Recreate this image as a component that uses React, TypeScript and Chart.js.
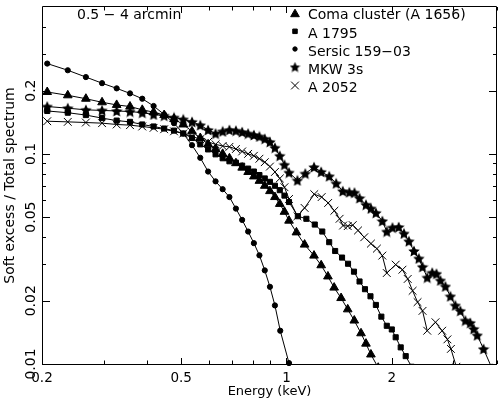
import React, { useEffect, useRef } from 'react';
import { Chart, registerables } from 'chart.js';

Chart.register(...registerables);

// ---- data (energy in keV, ratio soft excess / total spectrum) ----
const lowEnergy = [0.207, 0.237, 0.267, 0.297, 0.327, 0.357, 0.387, 0.417, 0.447, 0.477, 0.507, 0.537, 0.567, 0.597, 0.627, 0.657, 0.687, 0.717, 0.747, 0.777, 0.807, 0.837, 0.867, 0.897, 0.927, 0.957, 0.987, 1.017];

const comaEnergy = [...lowEnergy, 1.068, 1.127, 1.199, 1.257, 1.314, 1.369, 1.433, 1.497, 1.563, 1.634, 1.688, 1.744, 1.83];
const comaRatio = [0.197, 0.190, 0.183, 0.176, 0.171, 0.168, 0.162, 0.158, 0.153, 0.1465, 0.138, 0.128, 0.119, 0.111, 0.1055, 0.100, 0.0953, 0.0903, 0.0860, 0.0820, 0.0781, 0.0744, 0.0705, 0.0665, 0.0623, 0.0578, 0.0530, 0.0481, 0.0423, 0.0370, 0.0328, 0.0295, 0.0261, 0.0231, 0.0206, 0.0182, 0.0161, 0.0140, 0.0125, 0.0111, 0.0096];

const a1795Energy = [...lowEnergy, 1.078, 1.140, 1.205, 1.266, 1.325, 1.378, 1.442, 1.500, 1.560, 1.618, 1.677, 1.739, 1.802, 1.868, 1.936, 2.001, 2.053, 2.122, 2.193, 2.280];
const a1795Ratio = [0.160, 0.157, 0.153, 0.148, 0.144, 0.142, 0.138, 0.135, 0.132, 0.129, 0.125, 0.119, 0.111, 0.105, 0.0995, 0.0953, 0.0922, 0.0908, 0.0879, 0.0851, 0.0824, 0.0793, 0.0764, 0.0736, 0.0705, 0.0672, 0.0633, 0.0590, 0.0505, 0.0491, 0.0461, 0.0427, 0.0380, 0.0345, 0.0321, 0.0300, 0.0275, 0.0247, 0.0227, 0.0210, 0.0191, 0.0168, 0.0152, 0.0146, 0.0134, 0.0120, 0.0109, 0.0097];

const sersicEnergy = [0.207, 0.237, 0.267, 0.297, 0.327, 0.357, 0.387, 0.417, 0.447, 0.477, 0.507, 0.537, 0.567, 0.597, 0.627, 0.657, 0.687, 0.717, 0.747, 0.777, 0.807, 0.837, 0.867, 0.897, 0.927, 0.960, 1.017];
const sersicRatio = [0.269, 0.250, 0.232, 0.217, 0.205, 0.194, 0.183, 0.169, 0.154, 0.140, 0.125, 0.110, 0.0958, 0.0824, 0.0740, 0.0679, 0.0623, 0.0549, 0.0485, 0.0427, 0.0376, 0.0329, 0.0279, 0.0233, 0.0190, 0.0144, 0.0101];

const mkw3sEnergy = [...lowEnergy, 1.075, 1.132, 1.199, 1.257, 1.325, 1.387, 1.449, 1.513, 1.565, 1.618, 1.688, 1.744, 1.802, 1.880, 1.936, 2.010, 2.094, 2.168, 2.240, 2.315, 2.391, 2.450, 2.527, 2.611, 2.685, 2.756, 2.848, 2.943, 3.041, 3.142, 3.247, 3.355, 3.432, 3.512, 3.660, 3.874];
const mkw3sRatio = [0.168, 0.165, 0.162, 0.161, 0.160, 0.159, 0.157, 0.154, 0.152, 0.149, 0.146, 0.142, 0.137, 0.130, 0.125, 0.128, 0.130, 0.129, 0.127, 0.125, 0.123, 0.121, 0.118, 0.114, 0.107, 0.0979, 0.0888, 0.0815, 0.0748, 0.0806, 0.0865, 0.0821, 0.0783, 0.0724, 0.0665, 0.0657, 0.0654, 0.0616, 0.0573, 0.0550, 0.0524, 0.0479, 0.0427, 0.0446, 0.0449, 0.0418, 0.0384, 0.0345, 0.0318, 0.0290, 0.0258, 0.0272, 0.0269, 0.0250, 0.0234, 0.0210, 0.0190, 0.0179, 0.0161, 0.0157, 0.0147, 0.0137, 0.0118, 0.0095];

const a2052Energy = [...lowEnergy, 1.075, 1.127, 1.201, 1.261, 1.316, 1.371, 1.419, 1.452, 1.497, 1.547, 1.602, 1.669, 1.744, 1.814, 1.880, 1.936, 2.053, 2.146, 2.222, 2.295, 2.371, 2.450, 2.527, 2.668, 2.788, 2.886, 2.953, 3.061];
const a2052Ratio = [0.143, 0.142, 0.141, 0.140, 0.138, 0.137, 0.135, 0.133, 0.131, 0.128, 0.125, 0.121, 0.1175, 0.114, 0.111, 0.109, 0.108, 0.1055, 0.1027, 0.100, 0.0979, 0.0948, 0.0913, 0.0870, 0.0820, 0.0764, 0.0694, 0.0610, 0.0505, 0.0553, 0.0643, 0.0623, 0.0584, 0.0536, 0.0491, 0.0456, 0.0453, 0.0458, 0.0432, 0.0401, 0.0374, 0.0354, 0.0328, 0.0271, 0.0297, 0.0281, 0.0254, 0.0223, 0.0197, 0.0179, 0.0144, 0.0158, 0.0144, 0.0131, 0.0118, 0.0097];

const seriesNames = ['Coma cluster (A 1656)', 'A 1795', 'Sersic 159\u221203', 'MKW 3s', 'A 2052'];

const xMajorTicks = [0.2, 0.5, 1, 2];
const xTickLabels = ['0.2', '0.5', '1', '2'];
const xMinorTicks = [0.3, 0.4, 0.6, 0.7, 0.8, 0.9, 3, 4];
const yMajorTicks = [0.01, 0.02, 0.05, 0.1, 0.2];
const yTickLabels = ['0.01', '0.02', '0.05', '0.1', '0.2'];
const yMinorTicks = [0.03, 0.04, 0.06, 0.07, 0.08, 0.09, 0.3, 0.4];

const xTitle = 'Energy (keV)';
const yTitle = 'Soft excess / Total spectrum';
const regionLabel = '0.5 \u2212 4 arcmin';

const FONT = '"DejaVu Sans", "Liberation Sans", sans-serif';

function makeStar(size: number): HTMLCanvasElement {
  const c = document.createElement('canvas');
  c.width = size;
  c.height = size;
  const ctx = c.getContext('2d')!;
  const cx = size / 2;
  const cy = size / 2 + size * 0.05;
  const R = size / 2;
  const r = R * 0.48;
  ctx.fillStyle = '#000';
  ctx.beginPath();
  for (let i = 0; i < 10; i++) {
    const rad = i % 2 === 0 ? R : r;
    const a = -Math.PI / 2 + (i * Math.PI) / 5;
    const px = cx + rad * Math.cos(a);
    const py = cy + rad * Math.sin(a);
    if (i === 0) ctx.moveTo(px, py);
    else ctx.lineTo(px, py);
  }
  ctx.closePath();
  ctx.fill();
  return c;
}

function drawMarker(ctx: CanvasRenderingContext2D, style: any, x: number, y: number, r: number) {
  ctx.save();
  ctx.fillStyle = '#000';
  ctx.strokeStyle = '#000';
  ctx.lineWidth = 1;
  ctx.beginPath();
  if (style === 'triangle') {
    ctx.moveTo(x, y - r);
    ctx.lineTo(x + r * 0.866, y + r / 2);
    ctx.lineTo(x - r * 0.866, y + r / 2);
    ctx.closePath();
    ctx.fill();
    ctx.stroke();
  } else if (style === 'rect') {
    const s = r * Math.SQRT1_2;
    ctx.rect(x - s, y - s, 2 * s, 2 * s);
    ctx.fill();
    ctx.stroke();
  } else if (style === 'circle') {
    ctx.arc(x, y, r, 0, Math.PI * 2);
    ctx.fill();
    ctx.stroke();
  } else if (style === 'crossRot') {
    const d = r * Math.SQRT1_2;
    ctx.moveTo(x - d, y - d);
    ctx.lineTo(x + d, y + d);
    ctx.moveTo(x + d, y - d);
    ctx.lineTo(x - d, y + d);
    ctx.stroke();
  } else if (style && style.width) {
    ctx.drawImage(style, x - style.width / 2, y - style.height / 2);
  }
  ctx.restore();
}

export default function App() {
  const ref = useRef<HTMLCanvasElement | null>(null);

  useEffect(() => {
    if (!ref.current) return;
    const star = makeStar(12);
    const starSmall = makeStar(11);
    const mk = (E: number[], V: number[]) => E.map((e, i) => ({ x: e, y: V[i] }));
    const base = {
      borderColor: '#000',
      backgroundColor: '#000',
      pointBackgroundColor: '#000',
      pointBorderColor: '#000',
      borderWidth: 1,
      pointBorderWidth: 1,
      showLine: true,
      tension: 0,
      fill: false,
    };
    const legendStyles: any[] = ['triangle', 'rect', 'circle', starSmall, 'crossRot'];
    const legendRadius = [5, 3.2, 2.2, 0, 5.5];

    const framePlugin = {
      id: 'pgplotFrame',
      afterDraw(chart: any) {
        const { ctx, chartArea } = chart;
        const { left, right, top, bottom } = chartArea;
        const xs = chart.scales.x;
        const ys = chart.scales.y;
        ctx.save();
        ctx.strokeStyle = '#000';
        ctx.lineWidth = 1;
        ctx.beginPath();
        ctx.rect(left + 0.5, top - 0.5, right - left - 1, bottom - top + 1);
        ctx.stroke();
        const tick = (x1: number, y1: number, x2: number, y2: number) => {
          ctx.beginPath();
          ctx.moveTo(x1, y1);
          ctx.lineTo(x2, y2);
          ctx.stroke();
        };
        xMajorTicks.forEach((v) => {
          const p = Math.round(xs.getPixelForValue(v)) + 0.5;
          tick(p, bottom, p, bottom - 6);
          tick(p, top, p, top + 6);
        });
        xMinorTicks.forEach((v) => {
          const p = Math.round(xs.getPixelForValue(v)) + 0.5;
          tick(p, bottom, p, bottom - 3.5);
          tick(p, top, p, top + 3.5);
        });
        yMajorTicks.forEach((v) => {
          const p = Math.round(ys.getPixelForValue(v)) + 0.5;
          tick(left, p, left + 8, p);
          tick(right, p, right - 8, p);
        });
        yMinorTicks.forEach((v) => {
          const p = Math.round(ys.getPixelForValue(v)) + 0.5;
          tick(left, p, left + 4, p);
          tick(right, p, right - 4, p);
        });

        ctx.fillStyle = '#000';
        ctx.textBaseline = 'alphabetic';
        ctx.textAlign = 'center';
        ctx.font = `13.5px ${FONT}`;
        xMajorTicks.forEach((v, i) => {
          ctx.fillText(xTickLabels[i], xs.getPixelForValue(v), 381.5);
        });
        ctx.font = `14px ${FONT}`;
        yMajorTicks.forEach((v, i) => {
          ctx.save();
          ctx.translate(35, ys.getPixelForValue(v));
          ctx.rotate(-Math.PI / 2);
          ctx.fillText(yTickLabels[i], 0, 0);
          ctx.restore();
        });
        ctx.font = `13px ${FONT}`;
        ctx.fillText(xTitle, (left + right) / 2, 395);
        ctx.font = `14px ${FONT}`;
        ctx.save();
        ctx.translate(13.5, (top + bottom) / 2);
        ctx.rotate(-Math.PI / 2);
        ctx.fillText(yTitle, 0, 0);
        ctx.restore();

        ctx.textAlign = 'left';
        ctx.fillText(regionLabel, 77, 19.3);

        const markerY = [14.2, 31.3, 49, 67, 85.5];
        seriesNames.forEach((name, i) => {
          drawMarker(ctx, legendStyles[i], 295, markerY[i], legendRadius[i]);
          ctx.fillText(name, 308, 19.3 + 18.2 * i);
        });
        ctx.restore();
      },
    };

    const chart = new Chart(ref.current, {
      type: 'line',
      data: {
        datasets: [
          { ...base, label: seriesNames[0], data: mk(comaEnergy, comaRatio), pointStyle: 'triangle', pointRadius: 5 },
          { ...base, label: seriesNames[1], data: mk(a1795Energy, a1795Ratio), pointStyle: 'rect', pointRadius: 3.6 },
          { ...base, label: seriesNames[2], data: mk(sersicEnergy, sersicRatio), pointStyle: 'circle', pointRadius: 2.6, clip: { left: 0, top: 0, right: 0, bottom: 4 } as any },
          { ...base, label: seriesNames[3], data: mk(mkw3sEnergy, mkw3sRatio), pointStyle: star as any, pointRadius: 6 },
          { ...base, label: seriesNames[4], data: mk(a2052Energy, a2052Ratio), pointStyle: 'crossRot', pointRadius: 5.5 },
        ] as any,
      },
      options: {
        animation: false,
        responsive: false,
        events: [],
        layout: { padding: { left: 42, right: 1, top: 1, bottom: 35 } },
        plugins: { legend: { display: false }, tooltip: { enabled: false } },
        scales: {
          x: { type: 'logarithmic', min: 0.2, max: 4, display: false },
          y: { type: 'logarithmic', min: 0.01, max: 0.5, display: false },
        },
      },
      plugins: [framePlugin],
    });
    return () => chart.destroy();
  }, []);

  return (
    <div style={{ position: 'absolute', left: 0, top: 0, width: 504, height: 399, background: '#fff' }}>
      <canvas ref={ref} width={504} height={399} style={{ display: 'block' }} />
    </div>
  );
}
